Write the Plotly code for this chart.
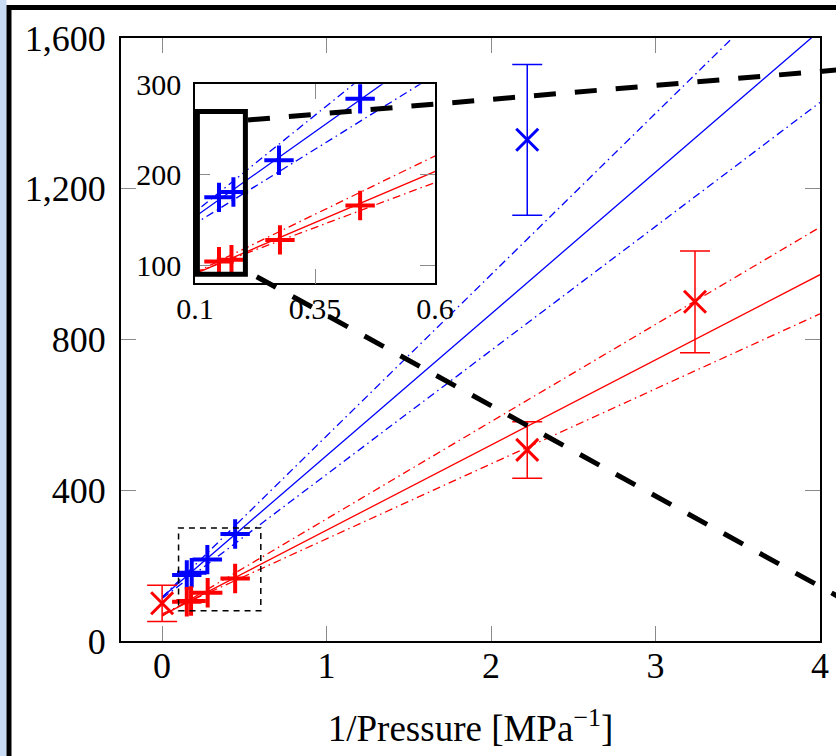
import plotly.graph_objects as go

# High-pressure runs (+ markers)
blue_plus_x = [0.150, 0.180, 0.275, 0.444]
blue_plus_y = [175, 181, 216, 284]
red_plus_x = [0.150, 0.176, 0.277, 0.444]
red_plus_y = [104, 106, 128, 166]

# Low-pressure runs (x markers) with their error bars
blue_cross_x = [2.22]
blue_cross_y = [1330]
blue_cross_err = [200]
red_cross_x = [0.0, 2.22, 3.24]
red_cross_y = [100, 507, 900]
red_cross_err = [48, 75, 135]

# Linear fits with upper / lower bounds, end points at 1/P = 0 and 4
fit_x = [0, 4]
blue_fit = [116, 1620]
blue_fit_hi = [116, 1828]
blue_fit_lo = [113, 1429]
red_fit = [68, 972]
red_fit_hi = [66, 1098]
red_fit_lo = [72, 868]

# Axis ticks
main_xticks = [0, 1, 2, 3, 4]
main_xlabels = ["0", "1", "2", "3", "4"]
main_yticks = [0, 400, 800, 1200, 1600]
main_ylabels = ["0", "400", "800", "1,200", "1,600"]
inset_xticks = [0.1, 0.35, 0.6]
inset_xlabels = ["0.1", "0.35", "0.6"]
inset_yticks = [100, 200, 300]
inset_ylabels = ["100", "200", "300"]

BLUE = "#0000ff"
RED = "#ff0000"
FONT = "'Liberation Serif', 'Times New Roman', 'DejaVu Serif', serif"
DASHDOT = "8px,4px,1.5px,4px"

W, H = 836, 756
L, R, T, B = 121, 16, 38, 115
PW, PH = W - L - R, H - T - B


def px_to_paper(px, py):
    return (px - L) / PW, (H - B - py) / PH


fig = go.Figure()


def add_series(xa, ya, with_crosses):
    for ys, color, dash in [
        (blue_fit_hi, BLUE, DASHDOT), (blue_fit_lo, BLUE, DASHDOT), (blue_fit, BLUE, "solid"),
        (red_fit_hi, RED, DASHDOT), (red_fit_lo, RED, DASHDOT), (red_fit, RED, "solid"),
    ]:
        fig.add_trace(go.Scatter(x=fit_x, y=ys, mode="lines", xaxis=xa, yaxis=ya,
                                 line=dict(color=color, width=1.3, dash=dash),
                                 showlegend=False, hoverinfo="skip"))
    for xs, ys, color in [(blue_plus_x, blue_plus_y, BLUE), (red_plus_x, red_plus_y, RED)]:
        fig.add_trace(go.Scatter(x=xs, y=ys, mode="markers", xaxis=xa, yaxis=ya,
                                 marker=dict(symbol="cross-thin", size=21,
                                             line=dict(color=color, width=4)),
                                 showlegend=False))
    if with_crosses:
        for xs, ys, es, color in [(blue_cross_x, blue_cross_y, blue_cross_err, BLUE),
                                  (red_cross_x, red_cross_y, red_cross_err, RED)]:
            fig.add_trace(go.Scatter(x=xs, y=ys, mode="markers", xaxis=xa, yaxis=ya,
                                     marker=dict(symbol="x-thin", size=22,
                                                 line=dict(color=color, width=3)),
                                     error_y=dict(type="data", array=es, visible=True,
                                                  color=color, thickness=1.5, width=15),
                                     showlegend=False))


add_series("x", "y", True)
add_series("x2", "y2", False)

axis_common = dict(showline=True, linecolor="black", linewidth=2, mirror="ticks",
                   ticks="inside", ticklen=15, tickwidth=1, tickcolor="#8a8a8a",
                   showgrid=False, zeroline=False, automargin=False)

ix0, iy1 = px_to_paper(195, 84.3)
ix1, iy0 = px_to_paper(435, 283.3)

fig.update_layout(
    width=W, height=H,
    margin=dict(l=L, r=R, t=T, b=B, autoexpand=False),
    paper_bgcolor="white", plot_bgcolor="white",
    font=dict(family=FONT, color="black", size=35),
    xaxis=dict(**axis_common, range=[-0.25, 4], domain=[0, 1],
               tickvals=main_xticks, ticktext=main_xlabels,
               tickfont=dict(family=FONT, size=36), ticklabelstandoff=-8,
               title=dict(text="1/Pressure [MPa<sup>\u22121</sup>]",
                          font=dict(family=FONT, size=37), standoff=30)),
    yaxis=dict(**axis_common, range=[0, 1600], domain=[0, 1],
               tickvals=main_yticks, ticktext=main_ylabels,
               tickfont=dict(family=FONT, size=36), ticklabelstandoff=6),
    xaxis2=dict(**{**axis_common, "linewidth": 1.5}, range=[0.1, 0.6],
                domain=[ix0, ix1], anchor="y2",
                tickvals=inset_xticks, ticktext=inset_xlabels,
                tickfont=dict(family=FONT, size=30), ticklabelstandoff=-2),
    yaxis2=dict(**{**axis_common, "linewidth": 1.5}, range=[80, 300],
                domain=[iy0, iy1], anchor="x2",
                tickvals=inset_yticks, ticktext=inset_ylabels,
                tickfont=dict(family=FONT, size=30), ticklabelstandoff=6),
)

shapes = []
# light strip and heavy page frame
bx0, _ = px_to_paper(0, 0)
bx1, _ = px_to_paper(6.5, 0)
shapes.append(dict(type="rect", xref="paper", yref="paper", x0=bx0, x1=bx1,
                   y0=-0.5, y1=1.5, fillcolor="#cadcf4", line=dict(width=0), layer="below"))
fx0, fy1 = px_to_paper(9, 7.5)
shapes.append(dict(type="rect", xref="paper", yref="paper", x0=fx0, x1=1.3,
                   y0=-0.5, y1=fy1, fillcolor="white",
                   line=dict(color="black", width=5), layer="below"))
# zoom window on the main axes
shapes.append(dict(type="rect", xref="x", yref="y", x0=0.1, x1=0.6, y0=80, y1=300,
                   line=dict(color="black", width=1.5, dash="6px,5px")))
# highlighted region in the inset
shapes.append(dict(type="rect", xref="x2", yref="y2", x0=0.105, x1=0.205, y0=90, y1=270,
                   line=dict(color="black", width=5)))
# connector lines leading off to the right
for (sx, sy), (ex, ey) in [((248, 120), (900, 64.6)), ((256.7, 276.7), (900, 630.5))]:
    a = px_to_paper(sx, sy)
    b = px_to_paper(ex, ey)
    shapes.append(dict(type="line", xref="paper", yref="paper", x0=a[0], y0=a[1],
                       x1=b[0], y1=b[1], line=dict(color="black", width=5, dash="22px,19px")))
fig.update_layout(shapes=shapes)

fig.write_html("out.html")
